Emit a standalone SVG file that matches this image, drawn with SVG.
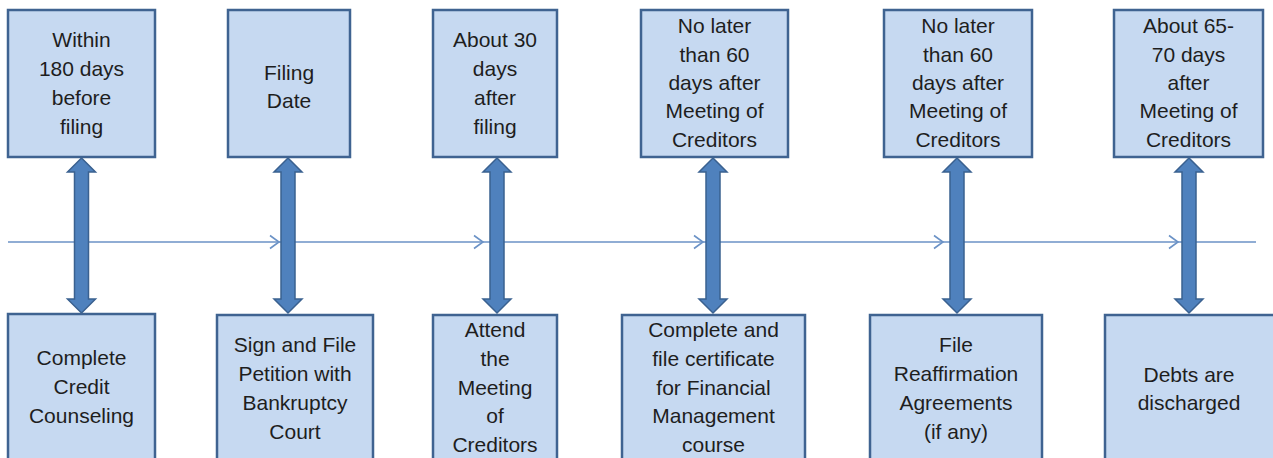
<svg xmlns="http://www.w3.org/2000/svg" width="1273" height="458" viewBox="0 0 1273 458">
<style>
.box{fill:#c6d9f1;stroke:#3f6391;stroke-width:2.5}
.t{font-family:"Liberation Sans",Arial,sans-serif;font-size:21px;fill:#1e1e1e;text-anchor:middle}
.dbl{fill:#4f81bd;stroke:#3a6190;stroke-width:1.5}
.tl{stroke:#6b92c6;stroke-width:1.6;fill:none}
</style>
<defs>
<marker id="chev" markerUnits="userSpaceOnUse" markerWidth="14" markerHeight="16" refX="11" refY="8" orient="auto">
<path d="M2,1.5 L11,8 L2,14.5" fill="none" stroke="#6b92c6" stroke-width="1.6"/>
</marker>
<path id="dbl" d="M0,0 L14,14 L7,14 L7,141 L14,141 L0,155 L-14,141 L-7,141 L-7,14 L-14,14 Z"/>
</defs>
<g id="connectors">
<line class="tl" x1="8" y1="242" x2="279" y2="242" marker-end="url(#chev)"/>
<line class="tl" x1="279" y1="242" x2="483" y2="242" marker-end="url(#chev)"/>
<line class="tl" x1="483" y1="242" x2="703" y2="242" marker-end="url(#chev)"/>
<line class="tl" x1="703" y1="242" x2="943" y2="242" marker-end="url(#chev)"/>
<line class="tl" x1="943" y1="242" x2="1178" y2="242" marker-end="url(#chev)"/>
<line class="tl" x1="1178" y1="242" x2="1256" y2="242"/>
<use href="#dbl" class="dbl" x="81.5" y="158"/>
<use href="#dbl" class="dbl" x="288" y="158"/>
<use href="#dbl" class="dbl" x="497" y="158"/>
<use href="#dbl" class="dbl" x="713" y="158"/>
<use href="#dbl" class="dbl" x="957" y="158"/>
<use href="#dbl" class="dbl" x="1189" y="158"/>
</g>
<g id="top1"><rect class="box" x="8" y="10" width="147" height="147"/>
<text class="t"><tspan x="81.5" y="47">Within</tspan><tspan x="81.5" y="76">180 days</tspan><tspan x="81.5" y="105">before</tspan><tspan x="81.5" y="134">filing</tspan></text></g>
<g id="top2"><rect class="box" x="228" y="10" width="122" height="147"/>
<text class="t"><tspan x="289" y="80">Filing</tspan><tspan x="289" y="108">Date</tspan></text></g>
<g id="top3"><rect class="box" x="433" y="10" width="124" height="147"/>
<text class="t"><tspan x="495" y="47">About 30</tspan><tspan x="495" y="76">days</tspan><tspan x="495" y="105">after</tspan><tspan x="495" y="134">filing</tspan></text></g>
<g id="top4"><rect class="box" x="641" y="10" width="147" height="147"/>
<text class="t"><tspan x="714.5" y="33">No later</tspan><tspan x="714.5" y="62">than 60</tspan><tspan x="714.5" y="90">days after</tspan><tspan x="714.5" y="118">Meeting of</tspan><tspan x="714.5" y="147">Creditors</tspan></text></g>
<g id="top5"><rect class="box" x="884" y="10" width="148" height="147"/>
<text class="t"><tspan x="958" y="33">No later</tspan><tspan x="958" y="62">than 60</tspan><tspan x="958" y="90">days after</tspan><tspan x="958" y="118">Meeting of</tspan><tspan x="958" y="147">Creditors</tspan></text></g>
<g id="top6"><rect class="box" x="1114" y="10" width="149" height="147"/>
<text class="t"><tspan x="1188.5" y="33">About 65-</tspan><tspan x="1188.5" y="62">70 days</tspan><tspan x="1188.5" y="90">after</tspan><tspan x="1188.5" y="118">Meeting of</tspan><tspan x="1188.5" y="147">Creditors</tspan></text></g>
<g id="bot1"><rect class="box" x="8" y="314" width="147" height="160"/>
<text class="t"><tspan x="81.5" y="365">Complete</tspan><tspan x="81.5" y="394">Credit</tspan><tspan x="81.5" y="423">Counseling</tspan></text></g>
<g id="bot2"><rect class="box" x="217" y="315" width="156" height="160"/>
<text class="t"><tspan x="295" y="352">Sign and File</tspan><tspan x="295" y="381">Petition with</tspan><tspan x="295" y="410">Bankruptcy</tspan><tspan x="295" y="439">Court</tspan></text></g>
<g id="bot3"><rect class="box" x="433" y="315" width="124" height="160"/>
<text class="t"><tspan x="495" y="337">Attend</tspan><tspan x="495" y="366">the</tspan><tspan x="495" y="395">Meeting</tspan><tspan x="495" y="423">of</tspan><tspan x="495" y="452">Creditors</tspan></text></g>
<g id="bot4"><rect class="box" x="622" y="315" width="183" height="160"/>
<text class="t"><tspan x="713.5" y="337">Complete and</tspan><tspan x="713.5" y="366">file certificate</tspan><tspan x="713.5" y="395">for Financial</tspan><tspan x="713.5" y="423">Management</tspan><tspan x="713.5" y="452">course</tspan></text></g>
<g id="bot5"><rect class="box" x="870" y="315" width="172" height="160"/>
<text class="t"><tspan x="956" y="352">File</tspan><tspan x="956" y="381">Reaffirmation</tspan><tspan x="956" y="410">Agreements</tspan><tspan x="956" y="439">(if any)</tspan></text></g>
<g id="bot6"><rect class="box" x="1105" y="315" width="175" height="160"/>
<text class="t"><tspan x="1189" y="382">Debts are</tspan><tspan x="1189" y="410">discharged</tspan></text></g>
</svg>
